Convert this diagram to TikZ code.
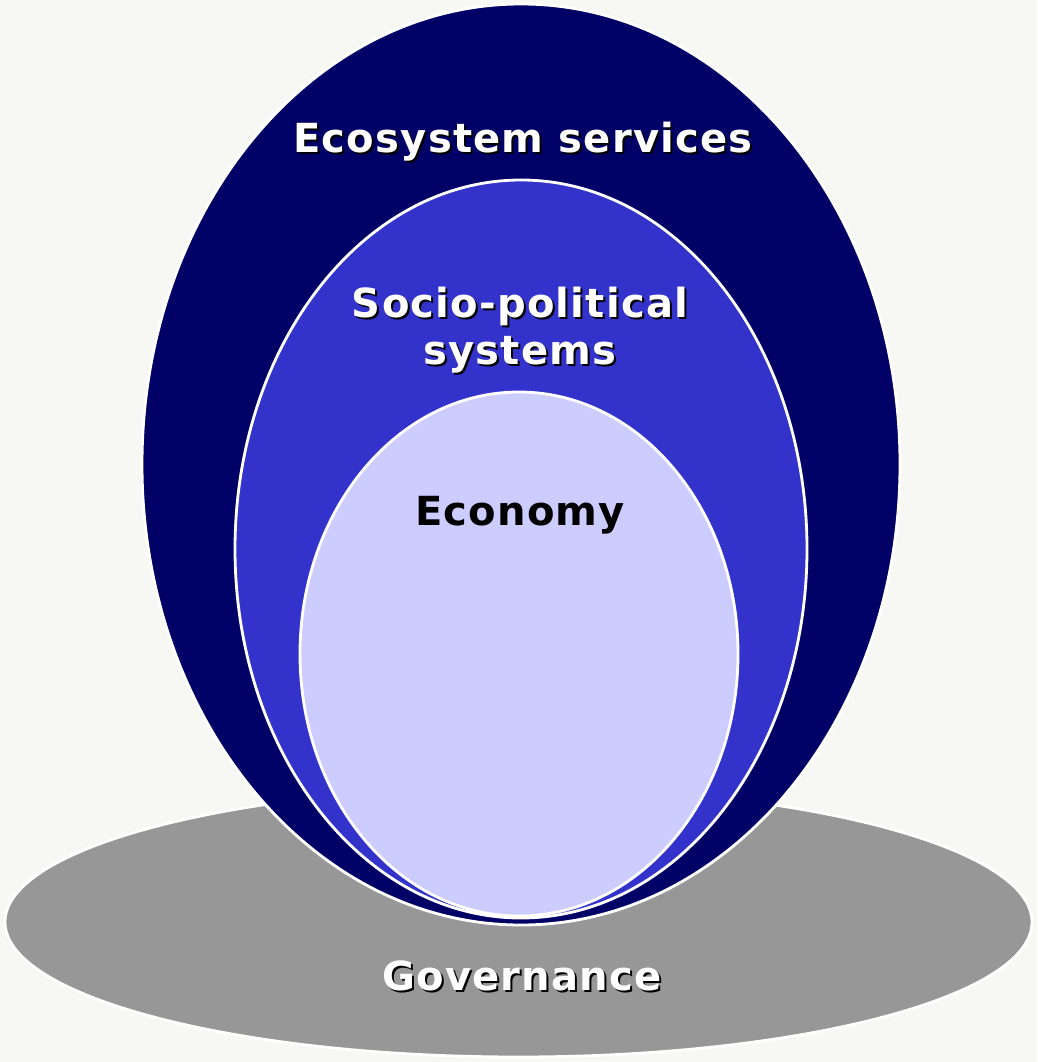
\documentclass[tikz,border=0pt]{standalone}
\usepackage{fontspec}
\setmainfont{DejaVu Sans}[LetterSpace=3]
\definecolor{paper}{HTML}{F7F7F3}
\definecolor{govgray}{HTML}{979797}
\definecolor{econavy}{HTML}{000066}
\definecolor{socioblue}{HTML}{3333CC}
\definecolor{econlav}{HTML}{CCCCFF}
\begin{document}
\begin{tikzpicture}[x=0.025cm,y=-0.025cm,
    ring/.style={draw=white,line width=2pt},
    lbl/.style={anchor=base,inner sep=0pt,font=\bfseries\fontsize{28.5}{32}\selectfont},
    lit/.style={lbl,text=white},
    shade/.style={lbl,text=black}]
    \fill[paper] (0,0) rectangle (1037,1062);
    \useasboundingbox (0,0) rectangle (1037,1062);

    % governance base
    \draw[ring,fill=govgray] (518.5,922) ellipse[x radius=513.5,y radius=135];

    % ecosystem services
    \draw[ring,fill=econavy] (521,464.5) ellipse[x radius=379,y radius=460.5];

    % socio-political systems
    \draw[ring,fill=socioblue] (521,549) ellipse[x radius=286,y radius=369];

    % economy
    \draw[ring,fill=econlav] (519,654) ellipse[x radius=219,y radius=262];

    % labels, with a dark copy behind for the shadow
    \node[shade] (ecoS) at (525,155) {Ecosystem services};
    \node[lit] (eco) at (523,153) {Ecosystem services};
    \node[shade] (socioS) at (522,320) {Socio-political};
    \node[lit] (socio) at (520,318) {Socio-political};
    \node[shade] (sysS) at (522,366) {systems};
    \node[lit] (sys) at (520,364) {systems};
    \node[lbl,text=black] (econ) at (520,525) {Economy};
    \node[shade] (govS) at (524,992) {Governance};
    \node[lit] (gov) at (522,990) {Governance};
\end{tikzpicture}
\end{document}
